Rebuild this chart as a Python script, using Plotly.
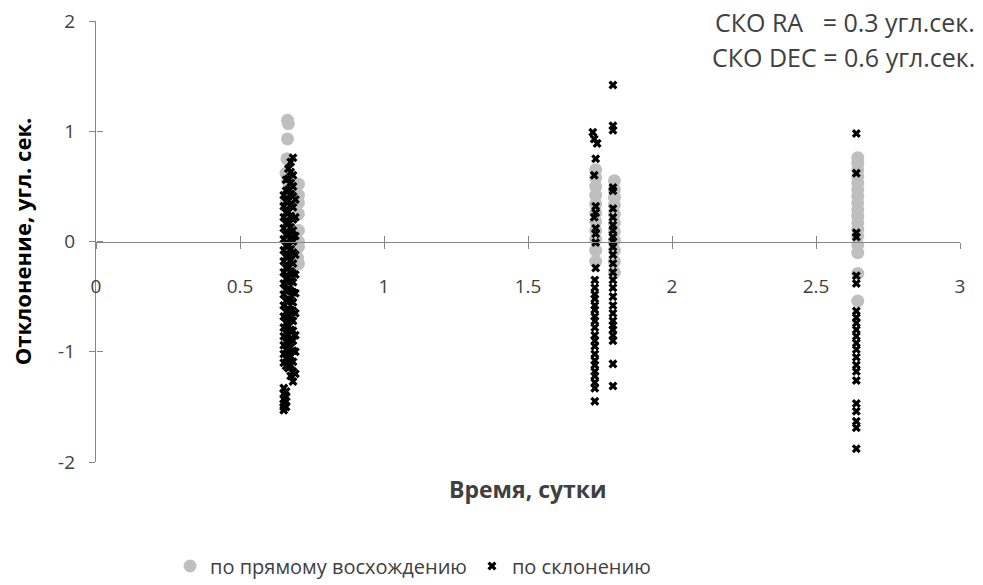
import plotly.graph_objects as go

# ---- data (days, arcsec) ----
ra1_t = [0.665, 0.668, 0.665, 0.663, 0.703, 0.660, 0.665, 0.670, 0.703, 0.703, 0.660, 0.665,
         0.703, 0.670, 0.703, 0.703, 0.665, 0.670, 0.665, 0.703, 0.703, 0.700]
ra1_v = [1.10, 1.07, 0.93, 0.75, 0.52, 0.62, 0.55, 0.45, 0.35, 0.25, 0.35, 0.20,
         0.10, 0.05, -0.05, -0.20, -0.10, -0.30, -0.42, 0.42, 0.00, -0.15]
ra2_t = [1.735] * 11 + [1.800] * 11
ra2_v = [0.65, 0.58, 0.50, 0.42, 0.34, 0.26, 0.18, 0.10, 0.02, -0.08, -0.18,
         0.55, 0.47, 0.40, 0.33, 0.25, 0.17, 0.09, 0.01, -0.08, -0.18, -0.28]
ra3_t = [2.645] * 17
ra3_v = [0.76, 0.71, 0.65, 0.59, 0.53, 0.47, 0.41, 0.35, 0.29, 0.23, 0.17, 0.11, 0.05, -0.03, -0.10, -0.29, -0.54]

dec1a_v = [-1.53, -1.50, -1.47, -1.43, -1.38, -1.33, -1.10, -1.02, -0.94, -0.86, -0.78, -0.68, -0.58, -0.48,
           -0.38, -0.28, -0.18, -0.08, 0.02, 0.12, 0.22, 0.32, 0.42]
dec1b_v = [-1.50, -1.45, -1.41, -1.36, -1.13, -1.06, -0.98, -0.91, -0.83, -0.74, -0.64, -0.54, -0.44, -0.34,
           -0.24, -0.14, -0.04, 0.06, 0.16, 0.26, 0.36, 0.46, 0.56]
dec1c_v = [-1.15, -1.08, -1.01, -0.93, -0.85, -0.77, -0.69, -0.61, -0.52, -0.43, -0.33, -0.23, -0.13, -0.03,
           0.07, 0.17, 0.27, 0.37, 0.47, 0.57, 0.66]
dec1d_v = [-1.22, -1.12, -1.04, -0.96, -0.88, -0.80, -0.71, -0.62, -0.53, -0.45, -0.36, -0.27, -0.17, -0.07,
           0.03, 0.13, 0.23, 0.33, 0.43, 0.53, 0.63, 0.72]
dec1e_v = [-1.27, -1.18, -1.09, -0.99, -0.90, -0.81, -0.72, -0.63, -0.55, -0.46, -0.37, -0.29, -0.20, -0.10,
           0.00, 0.10, 0.20, 0.31, 0.41, 0.50, 0.60, 0.76]
dec1f_v = [-1.20, -1.00, -0.85, -0.65, -0.47, -0.30, -0.12, 0.05, 0.22, 0.38]
dec1_t = ([0.652] * len(dec1a_v) + [0.660] * len(dec1b_v) + [0.668] * len(dec1c_v)
          + [0.676] * len(dec1d_v) + [0.684] * len(dec1e_v) + [0.692] * len(dec1f_v))
dec1_v = dec1a_v + dec1b_v + dec1c_v + dec1d_v + dec1e_v + dec1f_v

dec2_t = ([1.725, 1.740, 1.730, 1.735, 1.730, 1.735, 1.735, 1.730, 1.735, 1.735, 1.735, 1.735] + [1.732] * 20
          + [1.795] * 27)
dec2_v = [0.99, 0.89, 0.93, 0.75, 0.60, 0.32, 0.26, 0.22, 0.12, 0.07, -0.01, -0.24,
          -0.35, -0.42, -0.48, -0.52, -0.58, -0.62, -0.68, -0.72, -0.78, -0.85, -0.90, -0.95, -1.02, -1.08,
          -1.12, -1.18, -1.22, -1.28, -1.33, -1.45,
          1.42, 1.05, 1.01, 0.49, 0.46, 0.30, 0.22, 0.15, 0.10, 0.04, 0.00, -0.05, -0.12, -0.20, -0.28, -0.35,
          -0.42, -0.50, -0.58, -0.65, -0.72, -0.76, -0.80, -0.85, -0.90, -1.11, -1.31]
dec3_t = [2.64] * 22
dec3_v = [0.98, 0.62, 0.08, 0.04, -0.31, -0.38, -0.63, -0.69, -0.74, -0.80, -0.86, -0.92, -0.98, -1.05,
          -1.12, -1.18, -1.26, -1.47, -1.54, -1.63, -1.69, -1.88]

ra_t = ra1_t + ra2_t + ra3_t
ra_v = ra1_v + ra2_v + ra3_v
dec_t = dec1_t + dec2_t + dec3_t
dec_v = dec1_v + dec2_v + dec3_v

x_ticks = [0, 0.5, 1, 1.5, 2, 2.5, 3]
x_labels = ["0", "0.5", "1", "1.5", "2", "2.5", "3"]
y_ticks = [-2, -1, 0, 1, 2]
y_labels = ["-2", "-1", "0", "1", "2"]

FONT = "Open Sans"
AX = "#868686"
TXT = "#404040"

fig = go.Figure()
fig.add_trace(go.Scatter(x=ra_t, y=ra_v, mode="markers", name="по прямому восхождению",
                         marker=dict(symbol="circle", size=13, color="#BFBFBF")))
fig.add_trace(go.Scatter(x=dec_t, y=dec_v, mode="markers", name="по склонению",
                         marker=dict(symbol="x", size=8, color="#000000")))
# helper trace so the overlay axes (inner half of cross ticks) render
fig.add_trace(go.Scatter(x=[None], y=[None], xaxis="x2", yaxis="y2", showlegend=False, hoverinfo="skip"))

fig.update_layout(
    width=983, height=585,
    margin=dict(l=96, r=23, t=21, b=123),
    paper_bgcolor="white", plot_bgcolor="white",
    font=dict(family=FONT, size=18, color=TXT),
    showlegend=True,
    legend=dict(orientation="h", xref="container", yref="container",
                x=0.173, xanchor="left", y=0.0325, yanchor="middle",
                font=dict(family=FONT, size=20, color=TXT), itemwidth=30, tracegroupgap=0,
                bgcolor="rgba(0,0,0,0)", itemsizing="trace"),
    xaxis=dict(range=[0, 3], tickvals=x_ticks, ticktext=x_labels, showgrid=False, zeroline=False,
               showline=True, linecolor=AX, linewidth=1.3, ticks="outside", ticklen=6, tickcolor=AX,
               anchor="free", position=0.5, tickfont=dict(size=19, color=TXT), automargin=False,
               ticklabelstandoff=22, ticklabeloverflow="allow"),
    yaxis=dict(range=[-2, 2], tickvals=y_ticks, ticktext=y_labels, showgrid=False, zeroline=False,
               showline=True, linecolor=AX, linewidth=1.3, ticks="outside", ticklen=6, tickcolor=AX,
               tickfont=dict(size=19, color=TXT), domain=[0, 1], automargin=False,
               ticklabelstandoff=10, ticklabeloverflow="allow"),
    xaxis2=dict(range=[0, 3], tickvals=x_ticks, overlaying="x", anchor="free", position=0.5,
                showticklabels=False, showgrid=False, zeroline=False, showline=False,
                ticks="inside", ticklen=6, tickcolor=AX, automargin=False),
    yaxis2=dict(range=[-2, 2], tickvals=y_ticks, overlaying="y", anchor="free", position=0,
                showticklabels=False, showgrid=False, zeroline=False, showline=False,
                ticks="inside", ticklen=6, tickcolor=AX, automargin=False),
    annotations=[
        dict(text="<b>Время, сутки</b>", xref="paper", yref="paper", x=0.5, y=-0.061,
             xanchor="center", yanchor="middle", showarrow=False,
             font=dict(family=FONT, size=23, color=TXT)),
        dict(text="<b>Отклонение, угл. сек.</b>", xref="paper", yref="paper", x=-0.086, y=0.5,
             xanchor="center", yanchor="middle", showarrow=False, textangle=-90,
             font=dict(family=FONT, size=22, color="#000000")),
        dict(text="СКО RA\u00a0\u00a0\u00a0= 0.3 угл.сек.", xref="paper", yref="paper", x=1.02, y=0.998,
             xanchor="right", yanchor="middle", showarrow=False, font=dict(family=FONT, size=25, color=TXT)),
        dict(text="СКО DEC = 0.6 угл.сек.", xref="paper", yref="paper", x=1.02, y=0.919,
             xanchor="right", yanchor="middle", showarrow=False, font=dict(family=FONT, size=25, color=TXT)),
    ],
)

# remove the default 8px page margin so the figure fills the window exactly
fig.write_html("out.html", config={"displayModeBar": False},
               post_script="document.body.style.margin='0px';")
